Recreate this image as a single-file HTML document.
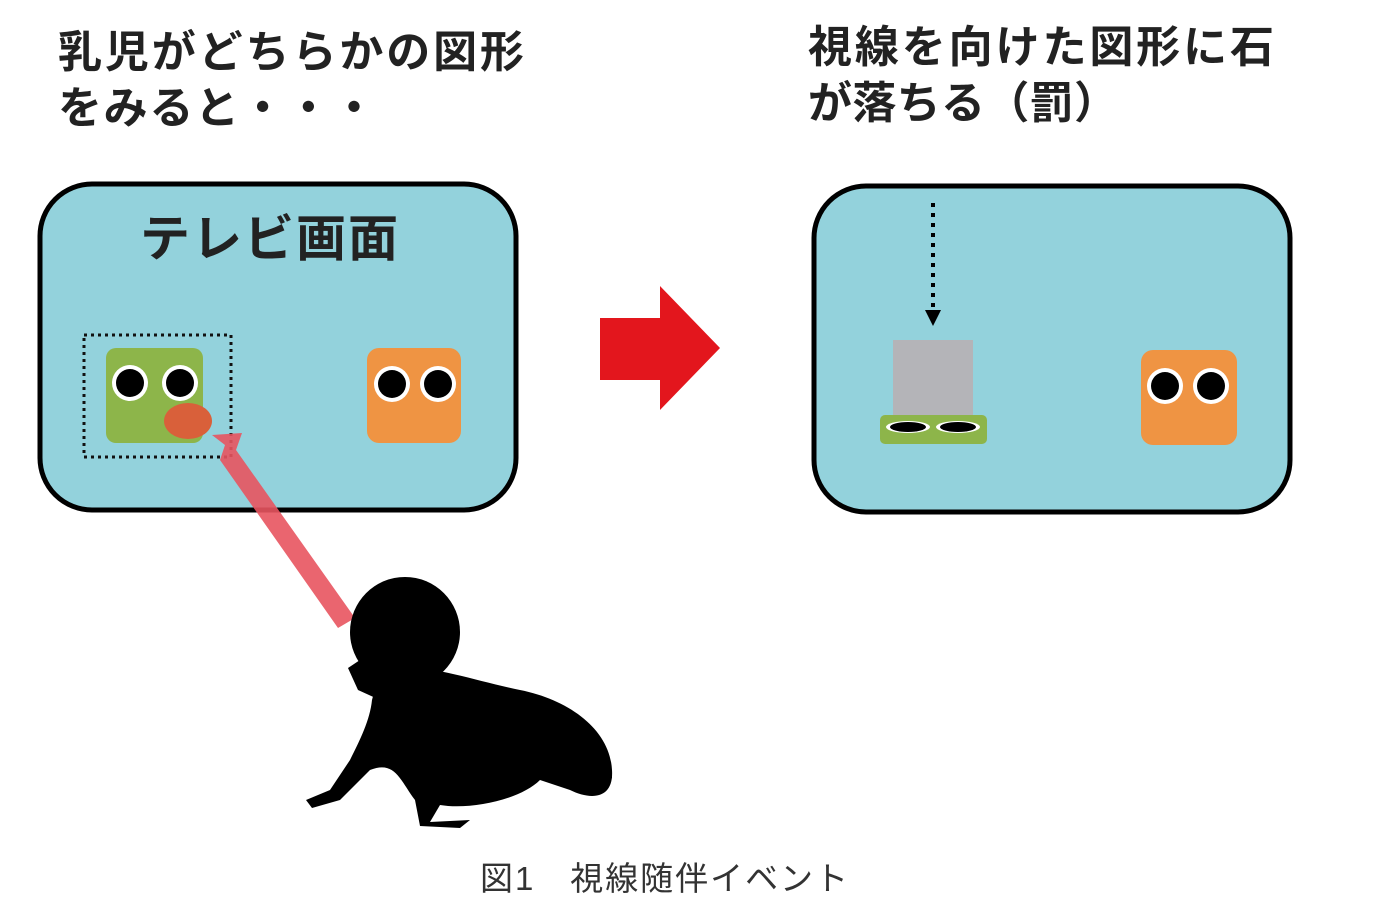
<!DOCTYPE html>
<html><head><meta charset="utf-8"><style>
html,body{margin:0;padding:0;background:#fff;}
svg{display:block;}
text{font-family:"Liberation Sans","Noto Sans CJK JP",sans-serif;}
</style></head><body>
<svg width="1373" height="912" viewBox="0 0 1373 912" xmlns="http://www.w3.org/2000/svg">
<g font-weight="bold" font-size="44" fill="#222">
<text x="58" y="67" textLength="466" lengthAdjust="spacing">乳児がどちらかの図形</text>
<text x="58" y="123" textLength="318" lengthAdjust="spacing">をみると・・・</text>
<text x="808" y="62" textLength="466" lengthAdjust="spacing">視線を向けた図形に石</text>
<text x="808" y="118" textLength="310" lengthAdjust="spacing">が落ちる（罰）</text>
</g>
<rect x="40" y="184" width="476" height="326" rx="52" fill="#93d2dc" stroke="#000" stroke-width="5"/>
<rect x="814" y="186" width="476" height="326" rx="52" fill="#93d2dc" stroke="#000" stroke-width="5"/>
<text x="140" y="256" font-size="50" font-weight="bold" fill="#222" textLength="258" lengthAdjust="spacing">テレビ画面</text>
<rect x="84" y="335" width="147" height="122" fill="none" stroke="#111" stroke-width="3" stroke-dasharray="3 4"/>
<rect x="106" y="348" width="97" height="95" rx="10" fill="#8db54a"/>
<circle cx="130" cy="383" r="18" fill="#fff"/><circle cx="130" cy="383" r="14" fill="#000"/>
<circle cx="180" cy="383" r="18" fill="#fff"/><circle cx="180" cy="383" r="14" fill="#000"/>
<ellipse cx="188" cy="421" rx="24" ry="18" fill="#d9603a"/>
<rect x="367" y="348" width="94" height="95" rx="12" fill="#ef9443"/>
<circle cx="392" cy="384" r="18" fill="#fff"/><circle cx="392" cy="384" r="14" fill="#000"/>
<circle cx="438" cy="384" r="18" fill="#fff"/><circle cx="438" cy="384" r="14" fill="#000"/>
<polygon points="212,435 242,433 236,450 355,618 338,628 220,460 225,445" fill="#e8545f" opacity="0.9"/>
<polygon points="600,318 660,318 660,286 720,348 660,410 660,380 600,380" fill="#e3161d"/>
<line x1="933" y1="203" x2="933" y2="312" stroke="#000" stroke-width="4" stroke-dasharray="4 6"/>
<polygon points="925,310 941,310 933,326" fill="#000"/>
<rect x="893" y="340" width="80" height="75" fill="#b4b4b8"/>
<rect x="880" y="415" width="107" height="29" rx="5" fill="#8db54a"/>
<ellipse cx="908" cy="427" rx="22" ry="6" fill="#fff"/><ellipse cx="908" cy="427" rx="18" ry="5" fill="#000"/>
<ellipse cx="958" cy="427" rx="22" ry="6" fill="#fff"/><ellipse cx="958" cy="427" rx="18" ry="5" fill="#000"/>
<rect x="1141" y="350" width="96" height="95" rx="12" fill="#ef9443"/>
<circle cx="1165" cy="386" r="18" fill="#fff"/><circle cx="1165" cy="386" r="14" fill="#000"/>
<circle cx="1211" cy="386" r="18" fill="#fff"/><circle cx="1211" cy="386" r="14" fill="#000"/>
<g fill="#000">
<circle cx="405" cy="632" r="55"/>
<path d="M360,660 L348,668 L358,690 L380,700 L395,690 Z"/>
<path d="M380,670 C420,660 470,680 520,690 C570,700 610,730 612,770 C614,800 590,800 570,790 L540,780 C520,800 470,810 440,805 L430,822 L470,820 L460,828 L420,826 L415,800 C400,780 395,760 370,770 L340,800 L312,808 L306,800 L330,790 L350,760 C360,740 370,720 372,700 Z"/>
<path d="M590,740 C605,745 612,760 612,778 L600,790 Z"/>
</g>
<text x="480" y="890" font-size="33" fill="#333" textLength="368" lengthAdjust="spacing">図1　視線随伴イベント</text>
</svg>
</body></html>
